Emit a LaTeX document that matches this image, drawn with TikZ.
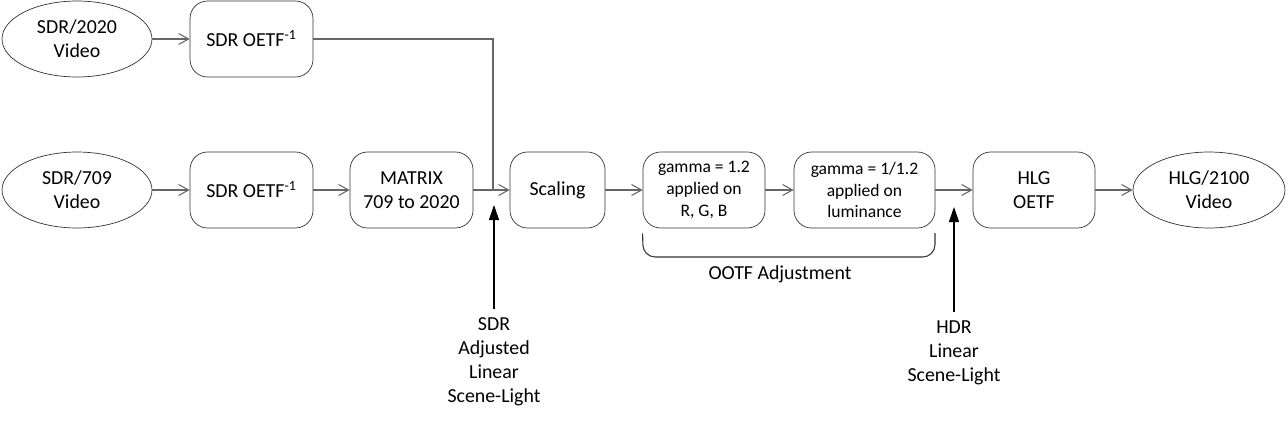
\documentclass[tikz,border=0pt]{standalone}
\usepackage{fontspec}
\setmainfont{Carlito}
\usetikzlibrary{arrows.meta,shapes.geometric}

\tikzset{
  blockbox/.style={draw=black!80, rounded corners=10pt, minimum height=1.52cm,
    align=center, inner sep=1pt, font=\fontsize{11.3}{13.6}\selectfont},
  videobox/.style={draw=black!80, ellipse, minimum height=1.52cm,
    align=center, inner sep=0pt, font=\fontsize{11.3}{13.6}\selectfont},
  smalltext/.style={font=\fontsize{10}{12.3}\selectfont},
  flow/.style={draw=black!60, line width=0.6pt, -{Straight Barb[length=0.2cm,width=0.22cm]}},
  feed/.style={draw=black, line width=0.6pt, -{Triangle[length=0.3cm,width=0.2cm]}},
  caption/.style={align=center, inner sep=1pt, font=\fontsize{11.3}{13.6}\selectfont}
}

\begin{document}
\begin{tikzpicture}[x=0.02cm, y=-0.02cm]
    % Khung
    \useasboundingbox (0,0) rectangle (1286,420);

    % Nhanh tren
    \node[videobox, minimum width=3cm] (e2020) at (77,39) {SDR/2020\\Video};
    \node[blockbox, minimum width=2.46cm] (oetfA) at (251.5,39) {SDR OETF\textsuperscript{-1}};

    % Nhanh duoi
    \node[videobox, minimum width=3cm] (e709) at (77,190) {SDR/709\\Video};
    \node[blockbox, minimum width=2.46cm] (oetfB) at (251.5,190) {SDR OETF\textsuperscript{-1}};
    \node[blockbox, minimum width=2.46cm] (matrix) at (411.5,190) {MATRIX\\709 to 2020};
    \node[blockbox, minimum width=1.9cm] (scaling) at (557.5,190) {Scaling};
    \node[blockbox, smalltext, minimum width=2.44cm] (gammaA) at (704,190) {gamma = 1.2\\applied on\\R, G, B};
    \node[blockbox, smalltext, minimum width=2.82cm] (gammaB) at (864.5,190) {gamma = 1/1.2\\applied on\\luminance};
    \node[blockbox, minimum width=2.44cm] (hlgoetf) at (1034,190) {HLG\\OETF};
    \node[videobox, minimum width=3.04cm] (hlg) at (1209,190) {HLG/2100\\Video};

    % Diem noi
    \coordinate (join) at (493,190);

    % Mui ten
    \draw[flow] (e2020) -- (oetfA);
    \draw[draw=black!60, line width=0.6pt] (oetfA.east) -| (join);
    \draw[flow] (e709) -- (oetfB);
    \draw[flow] (oetfB) -- (matrix);
    \draw[flow] (matrix) -- (scaling);
    \draw[flow] (scaling) -- (gammaA);
    \draw[flow] (gammaA) -- (gammaB);
    \draw[flow] (gammaB) -- (hlgoetf);
    \draw[flow] (hlgoetf) -- (hlg);

    % Ngoac OOTF
    \draw[black!80, line width=0.6pt, rounded corners=7pt]
      (gammaA.south west) ++(0,5) -- (643,257) -- (935,257) -- (935,233);
    \node[caption] (ootf) at (780,274) {OOTF Adjustment};

    % Nhan ben duoi
    \node[caption] (sdrlab) at (494,362) {SDR\\Adjusted\\Linear\\Scene-Light};
    \node[caption] (hdrlab) at (954,353) {HDR\\Linear\\Scene-Light};
    \coordinate (sdrtip) at (494,205);
    \coordinate (hdrtip) at (954,207);
    \draw[feed] (sdrlab.north) ++(0,-7) -- (sdrtip);
    \draw[feed] (hdrlab.north) ++(0,-7) -- (hdrtip);
\end{tikzpicture}
\end{document}
